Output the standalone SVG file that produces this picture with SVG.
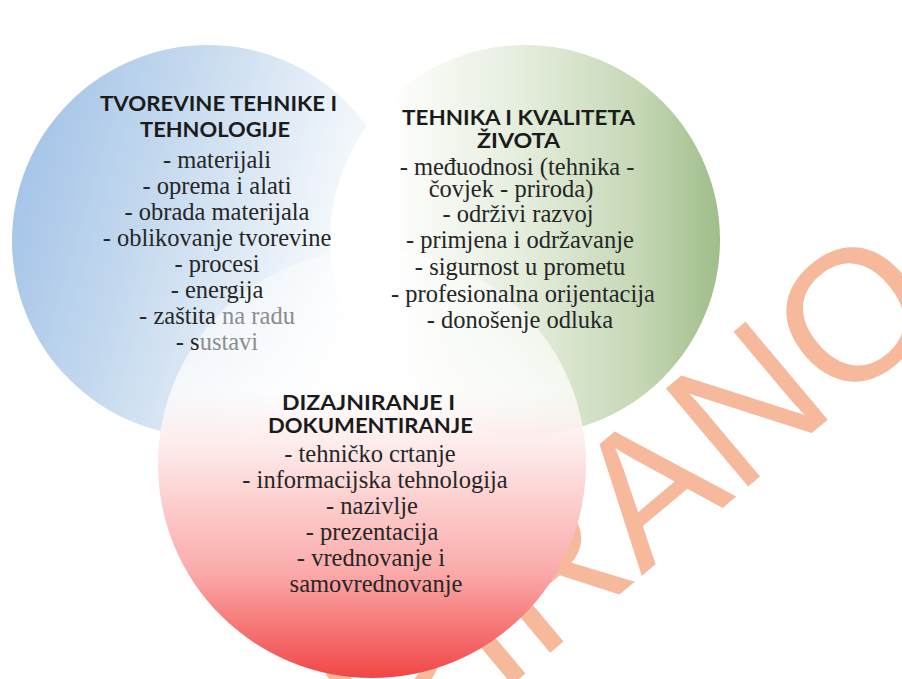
<svg xmlns="http://www.w3.org/2000/svg" width="902" height="679" viewBox="0 0 902 679">
  <defs>
    <linearGradient id="gBlue" x1="0" y1="0.35" x2="1" y2="0.65">
      <stop offset="0" stop-color="#a4c4e8"/>
      <stop offset="0.35" stop-color="#c6daef"/>
      <stop offset="0.7" stop-color="#ebf2f9"/>
      <stop offset="0.9" stop-color="#ffffff"/>
    </linearGradient>
    <linearGradient id="gGreen" x1="0" y1="0.5" x2="1" y2="0.5">
      <stop offset="0.15" stop-color="#ffffff"/>
      <stop offset="0.5" stop-color="#e4eddc"/>
      <stop offset="0.8" stop-color="#c4d7b4"/>
      <stop offset="1" stop-color="#a0bd89"/>
    </linearGradient>
    <linearGradient id="gRed" x1="0" y1="0" x2="0" y2="1">
      <stop offset="0" stop-color="#ffffff" stop-opacity="0.4"/>
      <stop offset="0.33" stop-color="#ffffff" stop-opacity="0.75"/>
      <stop offset="0.48" stop-color="#fde6e6"/>
      <stop offset="0.75" stop-color="#fbabab"/>
      <stop offset="1" stop-color="#f24646"/>
    </linearGradient>
    <style>
      .title { font-family: Lato, "Liberation Sans", sans-serif; font-weight: bold; font-size: 21px; fill: #1b1b1b; text-anchor: middle; }
      .item { font-family: "Liberation Serif", serif; font-size: 24.5px; fill: #262626; text-anchor: middle; }
      .fade { fill: #8c8c8c; }
      .wm { font-family: "Liberation Sans", sans-serif; font-size: 186px; fill: #f6b99c; }
    </style>
  </defs>

  <rect x="0" y="0" width="902" height="679" fill="#ffffff"/>

  <g id="watermark">
    <text class="wm" x="0" y="0" transform="translate(396,782) rotate(-40)">RIRANO</text>
  </g>

  <g id="node-tvorevine">
    <circle cx="208" cy="241" r="196" fill="url(#gBlue)"/>
  </g>
  <g id="node-kvaliteta">
    <circle cx="525" cy="240" r="195" fill="url(#gGreen)"/>
  </g>
  <g id="node-dizajniranje">
    <circle cx="372" cy="464" r="214" fill="url(#gRed)"/>
  </g>

  <g id="text-tvorevine">
    <text class="title" x="218.5" y="111" textLength="237" lengthAdjust="spacingAndGlyphs">TVOREVINE TEHNIKE I</text>
    <text class="title" x="215" y="137" textLength="150" lengthAdjust="spacingAndGlyphs">TEHNOLOGIJE</text>
    <text class="item" x="217" y="168">- materijali</text>
    <text class="item" x="217" y="194">- oprema i alati</text>
    <text class="item" x="217" y="220">- obrada materijala</text>
    <text class="item" x="217" y="246">- oblikovanje tvorevine</text>
    <text class="item" x="217" y="272">- procesi</text>
    <text class="item" x="217" y="298">- energija</text>
    <text class="item" x="217" y="324">- zaštita <tspan class="fade">na radu</tspan></text>
    <text class="item" x="217" y="350">- s<tspan class="fade">ustavi</tspan></text>
  </g>

  <g id="text-kvaliteta">
    <text class="title" x="518.5" y="125" textLength="233" lengthAdjust="spacingAndGlyphs">TEHNIKA I KVALITETA</text>
    <text class="title" x="518.5" y="148" textLength="83" lengthAdjust="spacingAndGlyphs">ŽIVOTA</text>
    <text class="item" x="517" y="175">- međuodnosi (tehnika -</text>
    <text class="item" x="511" y="197">čovjek - priroda)</text>
    <text class="item" x="518" y="222">- održivi  razvoj</text>
    <text class="item" x="520" y="248">- primjena i održavanje</text>
    <text class="item" x="520" y="275">- sigurnost u prometu</text>
    <text class="item" x="523" y="302">- profesionalna orijentacija</text>
    <text class="item" x="520" y="328">- donošenje odluka</text>
  </g>

  <g id="text-dizajniranje">
    <text class="title" x="368.5" y="410" textLength="173" lengthAdjust="spacingAndGlyphs">DIZAJNIRANJE I</text>
    <text class="title" x="370.5" y="433" textLength="205" lengthAdjust="spacingAndGlyphs">DOKUMENTIRANJE</text>
    <text class="item" x="370" y="462">- tehničko crtanje</text>
    <text class="item" x="375" y="488">- informacijska tehnologija</text>
    <text class="item" x="372" y="514">- nazivlje</text>
    <text class="item" x="372" y="540">- prezentacija</text>
    <text class="item" x="371" y="566">- vrednovanje i</text>
    <text class="item" x="376" y="592">samovrednovanje</text>
  </g>
</svg>
